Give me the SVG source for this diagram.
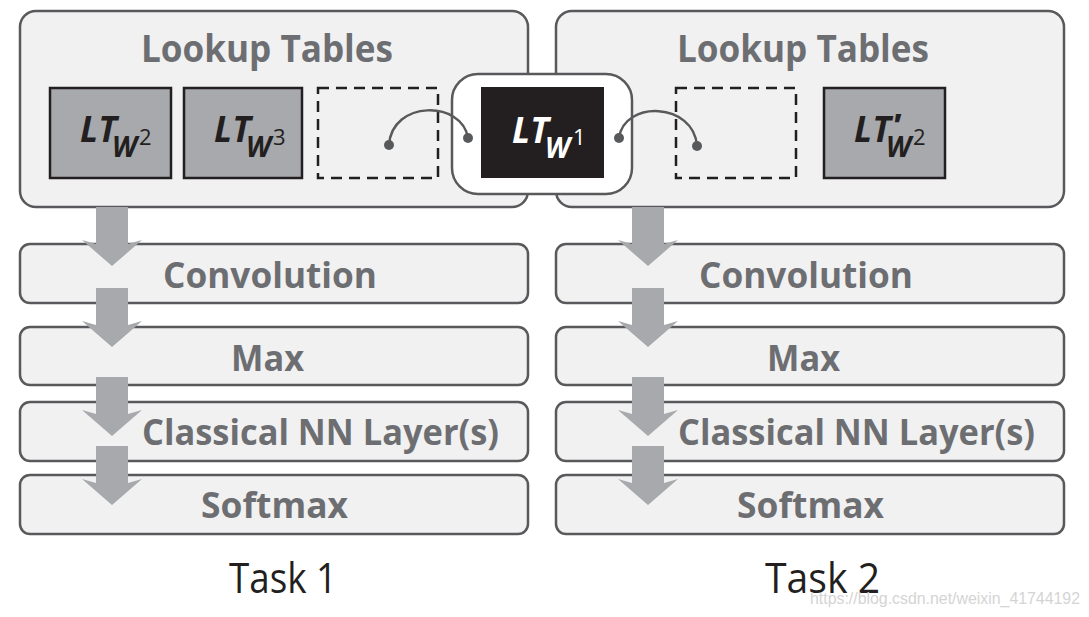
<svg xmlns="http://www.w3.org/2000/svg" width="1089" height="617" viewBox="0 0 1089 617">
<style>
.panel{fill:#f1f1f2;stroke:#58595b;stroke-width:2.5}
.layer{fill:#f1f1f2;stroke:#58595b;stroke-width:2.5}
.lt{fill:#a7a9ac;stroke:#231f20;stroke-width:2.5}
.dash{fill:none;stroke:#231f20;stroke-width:2.5;stroke-dasharray:11 7}
.hd{font-family:"Open Sans","Noto Sans",sans-serif;font-weight:700;fill:#6d6e71;font-size:36px}
.task{font-family:"Open Sans","Noto Sans",sans-serif;font-weight:400;fill:#231f20;font-size:42px}
.ltt{font-family:"Open Sans","Noto Sans",sans-serif;font-style:italic;font-weight:700;fill:#231f20}
.big{font-size:35px}
.sub{font-size:28px}
.sup{font-size:22px;font-style:normal;font-weight:400}
.arc{fill:none;stroke:#58595b;stroke-width:2.5}
.dot{fill:#58595b}
.arrow{fill:#a7a9ac}
.wm{font-family:"Liberation Sans",Arial,sans-serif;font-size:16px;fill:#d4d4d4}
</style>
<defs>
<path id="dn" d="M-16,0 H16 V37 L30,33 L0,59 L-30,33 L-16,37 Z"/>
</defs>
<rect width="1089" height="617" fill="#ffffff"/>

<g id="task1-lookup">
<rect class="panel" x="20" y="11" width="508" height="196" rx="16"/>
<text class="hd" x="141" y="62" textLength="252" lengthAdjust="spacingAndGlyphs" style="font-size:38px">Lookup Tables</text>
</g>
<g id="task2-lookup">
<rect class="panel" x="556" y="11" width="508" height="196" rx="16"/>
<text class="hd" x="677" y="62" textLength="252" lengthAdjust="spacingAndGlyphs" style="font-size:38px">Lookup Tables</text>
</g>

<g id="lt-w2">
<rect class="lt" x="50" y="88" width="121" height="90"/>
<text class="ltt"><tspan class="big" x="80" y="142">LT</tspan><tspan class="sub" x="112" y="157">W</tspan><tspan class="sup" x="139" y="145">2</tspan></text>
</g>
<g id="lt-w3">
<rect class="lt" x="184" y="88" width="118" height="90"/>
<text class="ltt"><tspan class="big" x="214" y="142">LT</tspan><tspan class="sub" x="246" y="157">W</tspan><tspan class="sup" x="273" y="145">3</tspan></text>
</g>
<g id="slot1">
<rect class="dash" x="318" y="88" width="120" height="90"/>
</g>

<g id="shared-lt-w1">
<rect x="452" y="74" width="180" height="120" rx="26" fill="#ffffff" stroke="#58595b" stroke-width="2.5"/>
<rect x="481" y="87" width="123" height="91" fill="#231f20"/>
<text class="ltt" style="fill:#ffffff"><tspan class="big" x="512" y="143">LT</tspan><tspan class="sub" x="545" y="158">W</tspan><tspan class="sup" x="573" y="145">1</tspan></text>
</g>

<g id="slot2">
<rect class="dash" x="676" y="88" width="120" height="90"/>
</g>
<g id="lt-prime-w2">
<rect class="lt" x="824" y="88" width="121" height="90"/>
<text class="ltt"><tspan class="big" x="854" y="142">LT</tspan><tspan class="sub" x="886" y="157">W</tspan><tspan class="sup" x="913" y="145">2</tspan></text>
<text class="ltt" x="892" y="137" style="font-size:32px;font-weight:800">'</text>
</g>

<g id="task1-layers">
<rect class="layer" x="20" y="244" width="508" height="59" rx="10"/>
<text class="hd" x="163" y="288" textLength="214" lengthAdjust="spacingAndGlyphs">Convolution</text>
<rect class="layer" x="20" y="327" width="508" height="58" rx="10"/>
<text class="hd" x="231" y="371" textLength="73" lengthAdjust="spacingAndGlyphs">Max</text>
<rect class="layer" x="20" y="402" width="508" height="59" rx="10"/>
<text class="hd" x="142" y="445" textLength="357" lengthAdjust="spacingAndGlyphs">Classical NN Layer(s)</text>
<rect class="layer" x="20" y="475" width="508" height="59" rx="10"/>
<text class="hd" x="201" y="518" textLength="147" lengthAdjust="spacingAndGlyphs">Softmax</text>
</g>
<g id="task2-layers">
<rect class="layer" x="556" y="244" width="508" height="59" rx="10"/>
<text class="hd" x="699" y="288" textLength="214" lengthAdjust="spacingAndGlyphs">Convolution</text>
<rect class="layer" x="556" y="327" width="508" height="58" rx="10"/>
<text class="hd" x="767" y="371" textLength="73" lengthAdjust="spacingAndGlyphs">Max</text>
<rect class="layer" x="556" y="402" width="508" height="59" rx="10"/>
<text class="hd" x="678" y="445" textLength="357" lengthAdjust="spacingAndGlyphs">Classical NN Layer(s)</text>
<rect class="layer" x="556" y="475" width="508" height="59" rx="10"/>
<text class="hd" x="737" y="518" textLength="147" lengthAdjust="spacingAndGlyphs">Softmax</text>
</g>

<g id="connectors">
<path class="arc" d="M389,145 C392,100 462,100 468,138"/>
<circle class="dot" cx="389" cy="145" r="5"/>
<circle class="dot" cx="468" cy="138" r="5"/>
<path class="arc" d="M619,138 C624,100 694,102 697,146"/>
<circle class="dot" cx="619" cy="138" r="5"/>
<circle class="dot" cx="697" cy="146" r="5"/>
<use href="#dn" class="arrow" x="112" y="207"/>
<use href="#dn" class="arrow" x="112" y="288"/>
<use href="#dn" class="arrow" x="112" y="377"/>
<use href="#dn" class="arrow" x="112" y="446"/>
<use href="#dn" class="arrow" x="648" y="207"/>
<use href="#dn" class="arrow" x="648" y="288"/>
<use href="#dn" class="arrow" x="648" y="377"/>
<use href="#dn" class="arrow" x="648" y="446"/>
</g>

<g id="captions">
<text class="task" x="229" y="593" textLength="108" lengthAdjust="spacingAndGlyphs">Task 1</text>
<text class="task" x="765" y="593" textLength="115" lengthAdjust="spacingAndGlyphs">Task 2</text>
<text class="wm" x="810" y="604" textLength="270" lengthAdjust="spacingAndGlyphs">https://blog.csdn.net/weixin_41744192</text>
</g>
</svg>
